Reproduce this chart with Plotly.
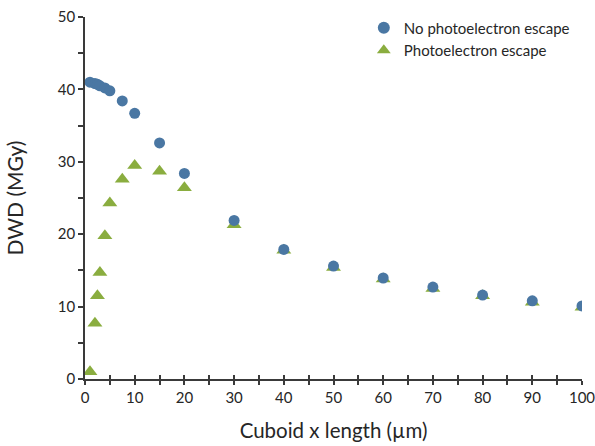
import plotly.graph_objects as go

x_no = [1, 2, 2.5, 3, 4, 5, 7.5, 10, 15, 20, 30, 40, 50, 60, 70, 80, 90, 100]
y_no = [41.0, 40.8, 40.7, 40.5, 40.2, 39.8, 38.4, 36.7, 32.6, 28.4, 21.9, 17.9, 15.6, 13.95, 12.7, 11.6, 10.8, 10.1]

x_esc = [1, 2, 2.5, 3, 4, 5, 7.5, 10, 15, 20, 30, 40, 50, 60, 70, 80, 90, 100]
y_esc = [1.0, 7.7, 11.5, 14.7, 19.8, 24.3, 27.6, 29.5, 28.7, 26.4, 21.3, 17.8, 15.4, 13.8, 12.5, 11.5, 10.6, 9.9]

x_ticks = [0, 10, 20, 30, 40, 50, 60, 70, 80, 90, 100]
y_ticks = [0, 10, 20, 30, 40, 50]

FONT = "Lato, 'Noto Sans', sans-serif"
AXC = "#3a3a3a"
TXT = "#262626"

fig = go.Figure()
fig.add_trace(go.Scatter(
    x=x_esc, y=y_esc, mode="markers", name="Photoelectron escape",
    marker=dict(symbol="triangle-up", size=13, color="#8aad3f"),
    legendrank=2,
))
fig.add_trace(go.Scatter(
    x=x_no, y=y_no, mode="markers", name="No photoelectron escape",
    marker=dict(symbol="circle", size=11, color="#4a77a3"),
    legendrank=1,
))

fig.update_layout(
    width=595, height=446,
    margin=dict(l=85, r=13, t=17, b=67, autoexpand=False),
    paper_bgcolor="white", plot_bgcolor="white",
    font=dict(family=FONT, color=TXT, size=14),
    showlegend=True,
    legend=dict(x=0.561, y=1.015, xanchor="left", yanchor="top",
                font=dict(size=15, family=FONT, color=TXT),
                bgcolor="rgba(0,0,0,0)", tracegroupgap=0, itemsizing="constant"),
    xaxis=dict(
        range=[0, 100], tickvals=x_ticks, ticktext=[str(v) for v in x_ticks],
        showgrid=False, zeroline=False, showline=True, linecolor=AXC, linewidth=1.5,
        ticks="outside", ticklen=4, tickwidth=1.5, tickcolor=AXC,
        minor=dict(dtick=5, ticks="outside", ticklen=4, tickwidth=1.5, tickcolor=AXC),
        tickfont=dict(size=15, family=FONT, color=TXT),
        ticklabeloverflow="allow",
        title=dict(text="Cuboid x length (µm)", font=dict(size=20.5, family=FONT, color=TXT), standoff=19),
        automargin=False,
        fixedrange=True,
    ),
    xaxis2=dict(
        range=[0, 100], overlaying="x", matches="x", showgrid=False, zeroline=False,
        showticklabels=False, ticks="inside", ticklen=4, tickwidth=1.5, tickcolor=AXC,
        tickvals=x_ticks, automargin=False,
        minor=dict(dtick=5, ticks="inside", ticklen=4, tickwidth=1.5, tickcolor=AXC),
        side="bottom",
    ),
    yaxis=dict(
        range=[0, 50], tickvals=y_ticks, ticktext=[str(v) for v in y_ticks],
        showgrid=False, zeroline=False, showline=True, linecolor=AXC, linewidth=1.5,
        ticks="outside", ticklen=5, tickwidth=1.5, tickcolor=AXC,
        minor=dict(dtick=5, ticks="outside", ticklen=5, tickwidth=1.5, tickcolor=AXC),
        tickfont=dict(size=15, family=FONT, color=TXT),
        ticklabeloverflow="allow",
        title=dict(text="DWD (MGy)", font=dict(size=21, family=FONT, color=TXT), standoff=28),
        automargin=False,
        fixedrange=True,
    ),
)
# invisible trace to activate the overlay axis for crossing ticks
fig.add_trace(go.Scatter(x=[0], y=[0], xaxis="x2", mode="markers",
                         marker=dict(opacity=0), showlegend=False, hoverinfo="skip"))

fig.write_html("out.html")
